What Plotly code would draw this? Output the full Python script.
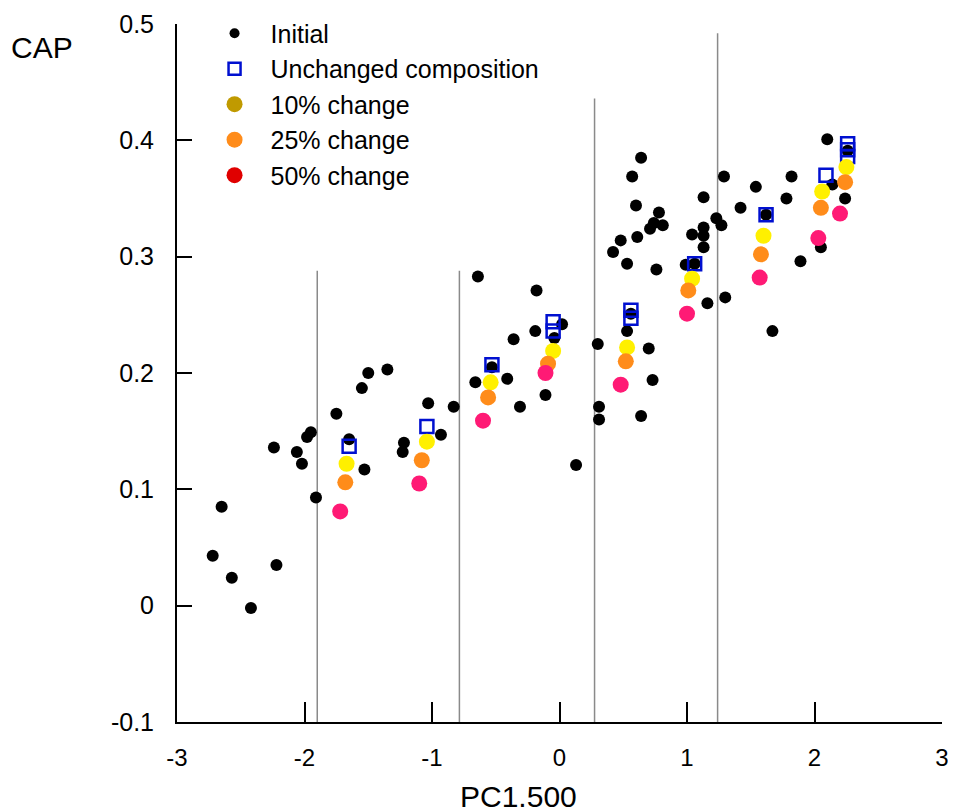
import plotly.graph_objects as go

# ---------------- data ----------------
initial_x = [-2.72, -2.65, -2.57, -2.42, -2.22, -2.24, -2.06, -2.02, -1.98, -1.95,
             -1.91, -1.75, -1.65, -1.55, -1.50, -1.53, -1.35, -1.22, -1.23, -1.03,
             -0.93, -0.83, -0.64, -0.66, -0.53, -0.41, -0.36, -0.31, -0.18, -0.19,
             -0.04, -0.11, 0.02, 0.13, 0.30, 0.31, 0.31, 0.42, 0.48, 0.53,
             0.57, 0.60, 0.61, 0.64, 0.53, 0.70, 0.64, 0.73, 0.71, 0.74,
             0.76, 0.78, 0.81, 0.99, 1.04, 1.13, 1.13, 1.13, 1.13, 1.16,
             1.23, 1.27, 1.29, 1.30, 1.42, 1.54, 1.67, 1.62, 1.82, 1.78,
             1.89, 2.10, 2.05, 2.24, 2.26, 0.56, 1.06, 2.14]
initial_y = [0.043, 0.085, 0.024, -0.002, 0.035, 0.136, 0.132, 0.122, 0.145, 0.149,
             0.093, 0.165, 0.143, 0.187, 0.200, 0.117, 0.203, 0.140, 0.132, 0.174,
             0.147, 0.171, 0.283, 0.192, 0.205, 0.195, 0.229, 0.171, 0.271, 0.236,
             0.230, 0.181, 0.242, 0.121, 0.225, 0.171, 0.160, 0.304, 0.314, 0.294,
             0.369, 0.344, 0.317, 0.385, 0.236, 0.221, 0.163, 0.194, 0.324, 0.329,
             0.289, 0.338, 0.327, 0.293, 0.319, 0.351, 0.325, 0.318, 0.308, 0.260,
             0.333, 0.327, 0.369, 0.265, 0.342, 0.360, 0.236, 0.336, 0.369, 0.350,
             0.296, 0.401, 0.308, 0.350, 0.391, 0.251, 0.294, 0.362]

unchanged_x = [-1.65, -1.04, -0.53, -0.05, -0.05, 0.56, 0.56, 1.06, 1.62, 2.09, 2.26, 2.26, 2.26]
unchanged_y = [0.137, 0.154, 0.207, 0.244, 0.236, 0.254, 0.247, 0.294, 0.336, 0.370, 0.397, 0.392, 0.386]

ch10_x = [-1.67, -1.04, -0.54, -0.05, 0.53, 1.04, 1.60, 2.06, 2.25]
ch10_y = [0.122, 0.141, 0.192, 0.219, 0.222, 0.281, 0.318, 0.356, 0.377]

ch25_x = [-1.68, -1.08, -0.56, -0.09, 0.52, 1.01, 1.58, 2.05, 2.24]
ch25_y = [0.106, 0.125, 0.179, 0.208, 0.210, 0.271, 0.302, 0.342, 0.364]

ch50_x = [-1.72, -1.10, -0.60, -0.11, 0.48, 1.00, 1.57, 2.03, 2.20]
ch50_y = [0.081, 0.105, 0.159, 0.200, 0.190, 0.251, 0.282, 0.316, 0.337]

# vertical divider lines (x position, top y)
divider_x = [-1.90, -0.785, 0.275, 1.24]
divider_top = [0.288, 0.288, 0.436, 0.492]

x_ticks = [-3, -2, -1, 0, 1, 2, 3]
x_ticktext = ["-3", "-2", "-1", "0", "1", "2", "3"]
y_ticks = [-0.1, 0, 0.1, 0.2, 0.3, 0.4, 0.5]
y_ticktext = ["-0.1", "0", "0.1", "0.2", "0.3", "0.4", "0.5"]

legend_names = ["Initial", "Unchanged composition", "10% change", "25% change", "50% change"]

FONT = "Liberation Sans, Arial, sans-serif"

# ---------------- figure ----------------
fig = go.Figure()

fig.add_trace(go.Scatter(x=initial_x, y=initial_y, mode="markers", showlegend=False,
                         marker=dict(color="black", size=12, line=dict(width=0))))
fig.add_trace(go.Scatter(x=unchanged_x, y=unchanged_y, mode="markers", showlegend=False,
                         marker=dict(symbol="square-open", color="#0010d0", size=13,
                                     line=dict(width=2.5, color="#0010d0"))))
fig.add_trace(go.Scatter(x=ch10_x, y=ch10_y, mode="markers", showlegend=False,
                         marker=dict(color="#fff000", size=16, line=dict(width=0))))
fig.add_trace(go.Scatter(x=ch25_x, y=ch25_y, mode="markers", showlegend=False,
                         marker=dict(color="#ff8c1a", size=16, line=dict(width=0))))
fig.add_trace(go.Scatter(x=ch50_x, y=ch50_y, mode="markers", showlegend=False,
                         marker=dict(color="#ff1a75", size=16, line=dict(width=0))))

# legend-only entries (legend colours differ from plotted colours in the original)
legend_markers = [
    dict(color="black", size=10),
    dict(symbol="square-open", color="#0010d0", size=12, line=dict(width=2.5, color="#0010d0")),
    dict(color="#c09a00", size=19),
    dict(color="#ff8c1a", size=19),
    dict(color="#e00000", size=19),
]
for name, mk in zip(legend_names, legend_markers):
    fig.add_trace(go.Scatter(x=[None], y=[None], mode="markers", name=name, marker=mk))

for dx, dt in zip(divider_x, divider_top):
    fig.add_shape(type="line", x0=dx, x1=dx, y0=-0.1, y1=dt, xref="x", yref="y",
                  line=dict(color="#8a8a8a", width=1.5), layer="below")

# page body has an 8px margin: compensate so the plot lands where the original does
fig.update_layout(
    width=948, height=804,
    margin=dict(l=169, r=14, t=16, b=90, autoexpand=False),
    paper_bgcolor="white", plot_bgcolor="white",
    font=dict(family=FONT, color="black"),
    legend=dict(x=0.201, y=0.997, xref="container", yref="container",
                xanchor="left", yanchor="top",
                font=dict(size=25, family=FONT),
                bgcolor="rgba(0,0,0,0)", tracegroupgap=0, itemwidth=62),
    xaxis=dict(range=[-3, 3], tickvals=x_ticks, ticktext=x_ticktext,
               ticks="inside", ticklen=20, tickwidth=2, tickcolor="black",
               showline=True, linecolor="black", linewidth=2,
               showgrid=False, zeroline=False, automargin=False,
               tickfont=dict(size=24), ticklabelstandoff=13),
    yaxis=dict(range=[-0.1, 0.5], tickvals=y_ticks, ticktext=y_ticktext,
               ticks="inside", ticklen=15, tickwidth=2, tickcolor="black",
               showline=True, linecolor="black", linewidth=2,
               showgrid=False, zeroline=False, automargin=False,
               tickfont=dict(size=25), ticklabelstandoff=16),
)

fig.add_annotation(text="CAP", xref="paper", yref="paper", x=-0.220, y=0.967,
                   xanchor="left", yanchor="middle", showarrow=False,
                   font=dict(size=30, color="black"))
fig.add_annotation(text="PC1.500", xref="paper", yref="paper", x=0.447, y=-0.107,
                   xanchor="center", yanchor="middle", showarrow=False,
                   font=dict(size=30, color="black"))

fig.write_html("out.html")
